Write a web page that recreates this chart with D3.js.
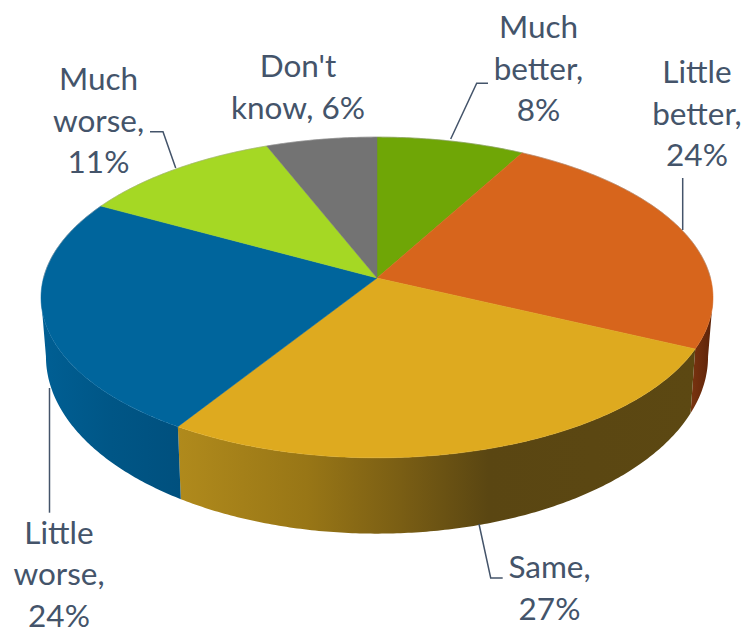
<!DOCTYPE html>
<html>
<head>
<meta charset="utf-8">
<script src="https://cdn.jsdelivr.net/npm/d3@7/dist/d3.min.js"></script>
<style>
html,body{margin:0;padding:0;background:#fff;overflow:hidden}
text{font-family:Lato,"Open Sans",sans-serif;fill:#44546a}
</style>
</head>
<body>
<svg id="chart" width="745" height="633"></svg>
<script>
// Data
const categories = ["Much better", "Little better", "Same", "Little worse", "Much worse", "Don't know"];
const values = [8, 24, 27, 24, 11, 6];
const wordsPerLine = [[1,1,1],[1,1,1],[1,1],[1,1,1],[1,1,1],[1,2]];

// Styles
const topColors = ["#6fa606", "#d7651c", "#deaa1f", "#00659c", "#a5d824", "#737373"];
const wallStops = [
  null,
  [[0, "#7a3410"], [1, "#5c2208"]],
  [[0, "#b08a1c"], [0.25, "#987616"], [0.43, "#7a5e14"], [0.6, "#5a4612"], [1, "#5c4812"]],
  [[0, "#005f94"], [0.5, "#005686"], [1, "#00507e"]],
  null, null
];

// Layout
const W = 745, H = 633;
const fontPx = 31.5, lineGap = 41.6;
const hub = {x: 377, y: 278};
const persp = 0.1215;
const topRing = {a: 333.5, b: 158, y0: 278};
const baseRing = {a: 328.6, b: 174.5, y0: 335};
const labelPos = [
  {x: 538.5, y: 38}, {x: 697, y: 83}, {x: 549.5, y: 578},
  {x: 59, y: 543.5}, {x: 98.5, y: 90}, {x: 298, y: 77}
];
const leaders = [
  [[450.7,139],[476.7,83.3],[488,83.3]],
  [[682.7,230],[682.7,178]],
  [[479,524],[490.7,578],[502.7,578]],
  [[49.5,388],[49.5,512.7]],
  [[175.7,168],[163,131.7],[150,131.7]],
  []
];

const svg = d3.select("#chart");
const defs = svg.append("defs");
const pie = d3.pie().sort(null).value(d => d).startAngle(0).endAngle(2 * Math.PI);
const slices = pie(values);

// Perspective projection of a disc point at polar angle t (clockwise from 12 o'clock)
function project(ring, t, r) {
  const u = r * Math.sin(t), v = -r * Math.cos(t);
  const w = 1 - persp * v;
  return [hub.x + ring.a * u / w, ring.y0 + ring.b * v / w];
}
const line = d3.line();
const arcPts = (ring, t0, t1) => {
  const n = Math.max(2, Math.ceil((t1 - t0) / 0.01));
  return d3.range(n + 1).map(i => project(ring, t0 + (t1 - t0) * i / n, 1));
};

// Visible walls run between the rings' widest points
const wallMin = Math.PI - Math.acos(persp), wallMax = Math.PI + Math.acos(persp);
slices.forEach((s, i) => {
  const t0 = Math.max(s.startAngle, wallMin), t1 = Math.min(s.endAngle, wallMax);
  if (t1 <= t0 || !wallStops[i]) return;
  const outer = arcPts(topRing, t0, t1), inner = arcPts(baseRing, t0, t1).reverse();
  const pts = outer.concat(inner);
  const ext = d3.extent(pts, p => p[0]);
  const id = "wall" + i;
  const g = defs.append("linearGradient").attr("id", id).attr("gradientUnits", "userSpaceOnUse")
    .attr("x1", ext[0]).attr("x2", ext[1]).attr("y1", 0).attr("y2", 0);
  wallStops[i].forEach(st => g.append("stop").attr("offset", st[0]).attr("stop-color", st[1]));
  svg.append("path").attr("d", line(pts) + "Z").attr("fill", `url(#${id})`);
});

// Top faces
slices.forEach((s, i) => {
  const pts = [[hub.x, hub.y]].concat(arcPts(topRing, s.startAngle, s.endAngle));
  svg.append("path").attr("d", line(pts) + "Z").attr("fill", topColors[i])
    .attr("stroke", topColors[i]).attr("stroke-width", 0.5);
});

// Soft rim on the back edge
svg.append("path").attr("d", line(arcPts(topRing, -Math.PI * 0.5, Math.PI * 0.5)))
  .attr("fill", "none").attr("stroke", "#9a9a9a").attr("stroke-opacity", 0.45).attr("stroke-width", 1);

// Leader lines
leaders.forEach(l => {
  if (l.length) svg.append("path").attr("d", line(l)).attr("fill", "none")
    .attr("stroke", "#44546a").attr("stroke-width", 1.5);
});

// Labels
categories.forEach((c, i) => {
  const words = `${c}, ${values[i]}%`.split(" ");
  let k = 0;
  const lines = wordsPerLine[i].map(n => { const t = words.slice(k, k + n).join(" "); k += n; return t; });
  const t = svg.append("text").attr("text-anchor", "middle").attr("font-size", fontPx);
  lines.forEach((ln, j) => t.append("tspan").attr("x", labelPos[i].x).attr("y", labelPos[i].y + j * lineGap).text(ln));
});
</script>
</body>
</html>
